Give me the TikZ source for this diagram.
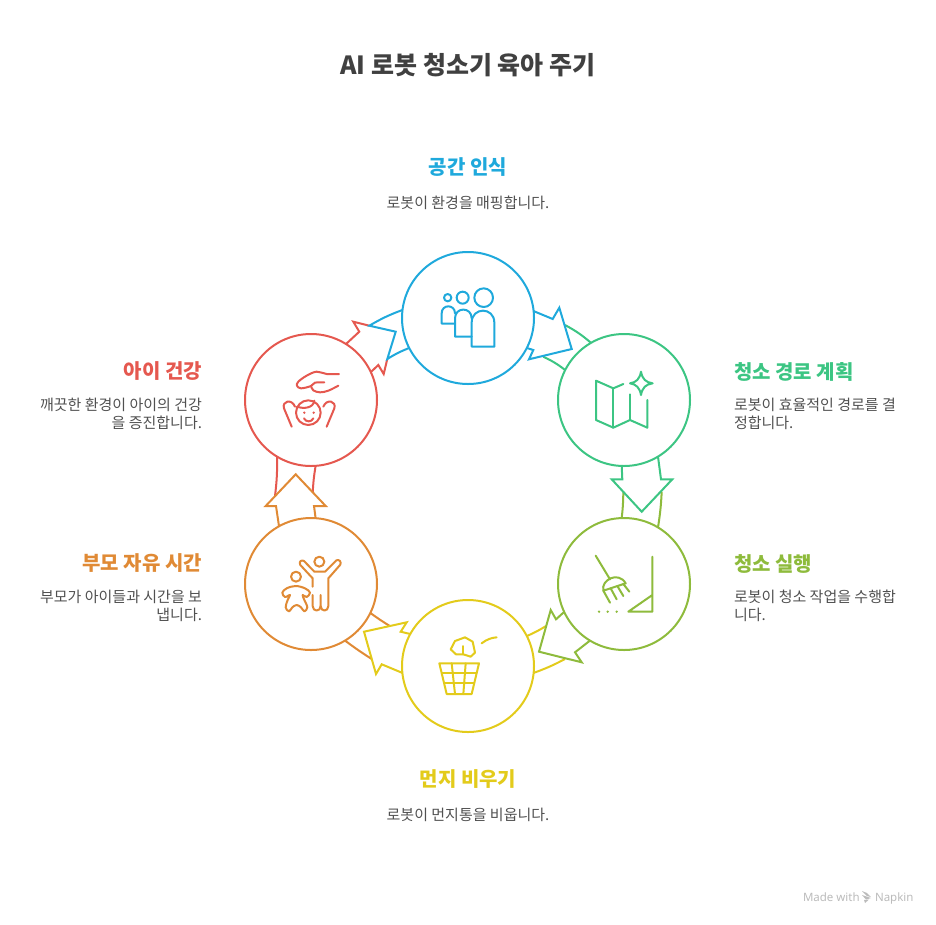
\documentclass[tikz,border=0pt]{standalone}
\usepackage{fontspec}
\setmainfont{Noto Sans CJK KR}
\newfontfamily\brandfont{Noto Sans}
\usetikzlibrary{
  arrows.meta,
  calc
}
\definecolor{cycInk}{HTML}{404040}
\definecolor{cycText}{HTML}{505050}
\definecolor{cycBlue}{HTML}{1FA9DC}
\definecolor{cycGreen}{HTML}{3CC583}
\definecolor{cycOlive}{HTML}{8EBB3C}
\definecolor{cycYellow}{HTML}{E3CB1B}
\definecolor{cycOrange}{HTML}{E08A35}
\definecolor{cycRed}{HTML}{E5584F}
\definecolor{cycBrand}{HTML}{BBBBBB}
\tikzset{
  every node/.style={inner sep=0pt, outer sep=0pt},
  stage/.style={
    circle,
    draw=#1,
    line width=2pt,
    fill=white,
    minimum size=132pt
  },
  band/.style={
    line width=2pt,
    draw=#1,
    line join=miter
  },
  glyph/.style={
    line width=2pt,
    draw=#1,
    line cap=round,
    line join=round
  },
  heading/.style={
    font=\fontsize{20}{24}\selectfont\bfseries,
    text=#1
  },
  caption/.style={
    font=\fontsize{15}{18}\selectfont,
    text=cycText
  },
  brand/.style={
    font=\brandfont\fontsize{11.5}{13}\selectfont,
    text=cycBrand,
    anchor=base west
  },
  icon/.style={
    shift={(#1)},
    x=0.3333pt,
    y=-0.3333pt
  }
}
\begin{document}
\begin{tikzpicture}[x=1pt, y=-1pt]
  \useasboundingbox (0,0) rectangle (936,924);

  \node[font=\fontsize{25}{29}\selectfont\bfseries, text=cycInk] (title) at (468,65) {AI 로봇 청소기 육아 주기};

  \node[stage=cycBlue] (space) at (468,318) {};
  \node[stage=cycGreen] (route) at (624,400) {};
  \node[stage=cycOlive] (clean) at (624,584) {};
  \node[stage=cycYellow] (bin) at (468,666) {};
  \node[stage=cycOrange] (parent) at (311,584) {};
  \node[stage=cycRed] (health) at (311,400) {};

  \node[heading=cycBlue] (spaceHead) at (468,167.5) {공간 인식};
  \node[caption] (spaceText) at (468,203) {로봇이 환경을 매핑합니다.};
  \node[heading=cycGreen, anchor=west] (routeHead) at (734,371.5) {청소 경로 계획};
  \node[caption, anchor=west, align=left] (routeText) at (734,414) {로봇이 효율적인 경로를 결\\정합니다.};
  \node[heading=cycOlive, anchor=west] (cleanHead) at (734,563.5) {청소 실행};
  \node[caption, anchor=west, align=left] (cleanText) at (734,606) {로봇이 청소 작업을 수행합\\니다.};
  \node[heading=cycYellow] (binHead) at (468,779.5) {먼지 비우기};
  \node[caption] (binText) at (468,815) {로봇이 먼지통을 비웁니다.};
  \node[heading=cycOrange, anchor=east] (parentHead) at (202,563.5) {부모 자유 시간};
  \node[caption, anchor=east, align=right] (parentText) at (202,606) {부모가 아이들과 시간을 보\\냅니다.};
  \node[heading=cycRed, anchor=east] (healthHead) at (202,371.5) {아이 건강};
  \node[caption, anchor=east, align=right] (healthText) at (202,414) {깨끗한 환경이 아이의 건강\\을 증진합니다.};

  \draw[band=cycGreen] (route.120.2) to[bend right=6] (565,325);
  \draw[band=cycGreen] (route.153) to[bend right=6] (543.3,356.7);
  \draw[band=cycBlue] (space.6.3) -- (552.7,319) -- (559.3,307.7) -- (571.7,349) -- (529,359.3) -- (533.3,350) -- (space.-27.3);

  \draw[band=cycOlive] (clean.92.6) to[bend right=3] (623.3,491.7);
  \draw[band=cycOlive] (clean.59) to[bend right=3] (661.7,491.7);
  \draw[band=cycGreen] (route.-92.6) -- (622.3,479.3) -- (611.7,479.3) -- (641.7,511.7) -- (672.3,479.3) -- (661,479.3) -- (route.-59.3);

  \draw[band=cycYellow] (bin.27.8) to[bend right=4] (546,626);
  \draw[band=cycYellow] (bin.-6.3) to[bend right=4] (565,659);
  \draw[band=cycOlive] (clean.205.4) -- (556,619.3) -- (550.7,610) -- (539,651.7) -- (581.7,662.3) -- (575,652.3) -- (clean.239.5);

  \draw[band=cycOrange] (parent.-26) to[bend right=2] (389.3,625.7);
  \draw[band=cycOrange] (parent.-59) to[bend right=2] (371.7,659);
  \draw[band=cycYellow] (bin.151.8) -- (400.7,631.7) -- (406.7,622.3) -- (364,631.7) -- (376,674) -- (381.7,664.3) -- (bin.186.3);

  \draw[band=cycRed] (health.239.6) to[bend left=4] (275,496);
  \draw[band=cycRed] (health.-86.5) to[bend right=3] (312.7,492.7);
  \draw[band=cycOrange] (parent.119.4) -- (276,506) -- (265.7,506) -- (295.7,474.3) -- (325.7,506) -- (314,506) -- (parent.86.5);

  \draw[band=cycRed] (health.58.5) -- (359.3,331.7) -- (353.3,321.7) -- (369.3,325.7);
  \draw[band=cycRed] (387.3,359) -- (383.7,374) -- (378.3,365) -- (health.25.5);
  \draw[band=cycBlue] (space.173.7) to[bend right=5] (369.3,325.7) -- (395.7,331.7) -- (387.3,359) to[bend left=5] (space.207.2);

  \begin{scope}[icon={430,280}]
    \draw[glyph=cycBlue] (53,53) circle[radius=11];
    \draw[glyph=cycBlue] (98,53) circle[radius=18];
    \draw[glyph=cycBlue] (161,53) circle[radius=28];
    \draw[glyph=cycBlue] (75,131) -- (35,131) -- (35,100) .. controls (35,72) and (75,72) .. (75,100);
    \draw[glyph=cycBlue] (125,170) -- (75,170) -- (75,115) .. controls (75,80) and (125,80) .. (125,115);
    \draw[glyph=cycBlue] (125,200) -- (125,128) .. controls (125,80) and (193,80) .. (193,128) -- (193,200) -- cycle;
  \end{scope}

  \begin{scope}[icon={585,365}]
    \draw[glyph=cycGreen] (115,57) -- (85,70) -- (33,47) -- (33,165) -- (85,188) -- (135,165) -- (187,188) -- (187,105);
    \draw[glyph=cycGreen] (85,70) -- (85,188);
    \draw[glyph=cycGreen] (135,165) -- (135,88);
    \draw[glyph=cycGreen] (168,20) .. controls (172,42) and (182,52) .. (203,55) .. controls (182,58) and (172,68) .. (168,90) .. controls (164,68) and (154,58) .. (135,55) .. controls (154,52) and (164,42) .. (168,20) -- cycle;
  \end{scope}

  \begin{scope}[icon={590,550}]
    \draw[glyph=cycOlive] (17,17) -- (60,88);
    \draw[glyph=cycOlive] (40,122) .. controls (32,90) and (85,62) .. (107,100) -- cycle;
    \draw[glyph=cycOlive] (40,122) -- (60,158);
    \draw[glyph=cycOlive] (62,115) -- (80,148);
    \draw[glyph=cycOlive] (82,108) -- (100,138);
    \draw[glyph=cycOlive] (100,102) -- (118,125);
    \fill[cycOlive] (27,185) circle[radius=4];
    \fill[cycOlive] (53,185) circle[radius=4];
    \fill[cycOlive] (80,185) circle[radius=4];
    \draw[glyph=cycOlive] (187,20) -- (187,185) -- (115,185) -- (187,135);
  \end{scope}

  \begin{scope}[icon={430,630}]
    \draw[glyph=cycYellow] (75,33) -- (105,22) -- (128,35) -- (135,68) -- (122,80) -- (100,73) -- (78,73) -- (62,58) -- cycle;
    \draw[glyph=cycYellow] (100,48) -- (100,73);
    \draw[glyph=cycYellow] (155,40) .. controls (170,28) and (185,23) .. (200,22);
    \draw[glyph=cycYellow] (28,100) -- (147,100) -- (125,192) -- (50,192) -- cycle;
    \draw[glyph=cycYellow] (65,100) -- (75,192);
    \draw[glyph=cycYellow] (107,100) -- (100,192);
    \draw[glyph=cycYellow] (36,130) -- (139,130);
    \draw[glyph=cycYellow] (43,160) -- (132,160);
  \end{scope}

  \begin{scope}[icon={275,550}]
    \draw[glyph=cycOrange] (133,35) circle[radius=15];
    \draw[glyph=cycOrange] (63,80) circle[radius=15];
    \draw[glyph=cycOrange] (113,110) -- (113,85) -- (76,45) .. controls (70,35) and (80,28) .. (87,33) -- (118,65) -- (150,65) -- (184,31) .. controls (192,27) and (200,35) .. (196,44) -- (160,85) -- (160,168) .. controls (160,186) and (137,186) .. (137,168) -- (137,135);
    \draw[glyph=cycOrange] (113,135) -- (113,168) .. controls (113,186) and (137,186) .. (137,168);
    \draw[glyph=cycOrange] plot[smooth cycle, tension=0.6] coordinates {(38,150) (32,172) (42,184) (52,172) (65,165) (78,172) (88,184) (97,172) (88,150) (83,135) (95,141) (105,128) (90,115) (62,108) (35,115) (22,128) (30,141) (45,135)};
  \end{scope}

  \begin{scope}[icon={275,365}]
    \draw[glyph=cycRed] plot[smooth, tension=0.6] coordinates {(192,27) (155,27) (125,20) (95,32) (70,50) (66,62) (78,70) (108,63) (120,53) (148,52)};
    \draw[glyph=cycRed] plot[smooth, tension=0.6] coordinates {(108,63) (115,76) (135,82) (160,77) (190,62)};
    \draw[glyph=cycRed] (100,143) circle[radius=37];
    \draw[glyph=cycRed] (66,125) .. controls (85,132) and (115,130) .. (118,107);
    \fill[cycRed] (88,143) circle[radius=4];
    \fill[cycRed] (116,143) circle[radius=4];
    \draw[glyph=cycRed] (87,160) .. controls (92,172) and (110,172) .. (115,160);
    \draw[glyph=cycRed] (50,185) -- (27,130) .. controls (20,108) and (50,100) .. (60,125);
    \draw[glyph=cycRed] (155,185) -- (178,130) .. controls (185,108) and (155,100) .. (145,125);
  \end{scope}

  \node[brand] (brandA) at (803,901) {Made with};
  \node[brand] (brandB) at (875,901) {Napkin};
  \fill[cycBrand] (862,891) -- (867,893) -- (871,897) -- (867,896) -- cycle;
  \fill[cycBrand] (862,895) -- (871,898) -- (866,899.5) -- cycle;
  \fill[cycBrand] (864,900) -- (869,899.5) -- (865,903) -- cycle;
\end{tikzpicture}
\end{document}
